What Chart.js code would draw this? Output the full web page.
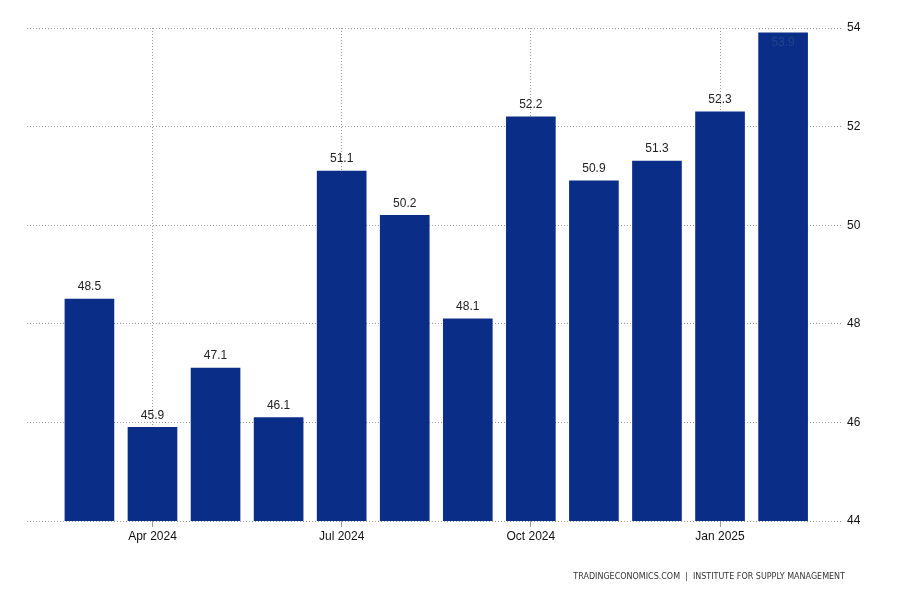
<!DOCTYPE html>
<html>
<head>
<meta charset="utf-8">
<script src="https://cdn.jsdelivr.net/npm/chart.js@4"></script>
<style>
  html, body { margin: 0; padding: 0; background: #fff; }
  #wrap { position: relative; width: 900px; height: 600px; }
  #source {
    position: absolute; right: 55px; top: 572px;
    font: 8px "DejaVu Sans", sans-serif; color: #333; white-space: nowrap;
  }
</style>
</head>
<body>
<div id="wrap">
  <canvas id="chart" width="900" height="600"></canvas>
  <div id="source">TRADINGECONOMICS.COM&nbsp; | &nbsp;INSTITUTE FOR SUPPLY MANAGEMENT</div>
</div>
<script>
// ISM manufacturing PMI, monthly
var months = ['Mar 2024', 'Apr 2024', 'May 2024', 'Jun 2024', 'Jul 2024', 'Aug 2024',
  'Sep 2024', 'Oct 2024', 'Nov 2024', 'Dec 2024', 'Jan 2025', 'Feb 2025'];
var pmi = [48.5, 45.9, 47.1, 46.1, 51.1, 50.2, 48.1, 52.2, 50.9, 51.3, 52.3, 53.9];
var tickMonths = ['Apr 2024', 'Jul 2024', 'Oct 2024', 'Jan 2025'];
var yTicks = [44, 46, 48, 50, 52, 54];

var barColor = '#0a2e87';
var gridColor = '#999';
var labelFont = { family: 'Liberation Sans', size: 12 };

// value labels above each bar (inside when too close to the top)
var valueLabels = {
  id: 'valueLabels',
  afterDatasetsDraw: function (chart) {
    var ctx = chart.ctx;
    var meta = chart.getDatasetMeta(0);
    ctx.save();
    ctx.font = '12px "Liberation Sans", sans-serif';
    ctx.textAlign = 'center';
    meta.data.forEach(function (bar, i) {
      if (bar.y - 20 < chart.chartArea.top) {
        ctx.fillStyle = '#23438f';
        ctx.textBaseline = 'top';
        ctx.fillText(pmi[i].toFixed(1), bar.x, bar.y + 4);
      } else {
        ctx.fillStyle = '#222';
        ctx.textBaseline = 'bottom';
        ctx.fillText(pmi[i].toFixed(1), bar.x, bar.y - 6);
      }
    });
    ctx.restore();
  }
};

new Chart(document.getElementById('chart'), {
  type: 'bar',
  data: {
    datasets: [{
      data: pmi.map(function (v, i) { return { x: i, y: v }; }),
      backgroundColor: barColor,
      barThickness: 49
    }]
  },
  options: {
    responsive: false,
    animation: false,
    layout: { padding: { left: 27, top: 28, right: 0, bottom: 0 } },
    plugins: { legend: { display: false }, tooltip: { enabled: false } },
    scales: {
      x: {
        type: 'linear',
        offset: false,
        min: -0.99,
        max: 11.95,
        afterBuildTicks: function (scale) {
          scale.ticks = tickMonths.map(function (m) { return { value: months.indexOf(m) }; });
        },
        afterFit: function (scale) { scale.height = 79; },
        ticks: {
          callback: function (v) { return months[v]; },
          color: '#111',
          font: labelFont,
          padding: 2,
          maxRotation: 0
        },
        grid: {
          offset: false,
          color: gridColor,
          tickLength: 6,
          tickBorderDash: [],
          tickColor: '#999'
        },
        border: { display: false, dash: [1, 2] }
      },
      y: {
        position: 'right',
        min: 44,
        max: 54,
        afterBuildTicks: function (scale) {
          scale.ticks = yTicks.map(function (v) { return { value: v }; });
        },
        afterFit: function (scale) { scale.width = 57; },
        ticks: {
          color: '#111',
          font: labelFont,
          padding: 4
        },
        grid: {
          color: gridColor,
          drawTicks: false
        },
        border: { display: false, dash: [1, 2] }
      }
    }
  },
  plugins: [valueLabels]
});
</script>
</body>
</html>
